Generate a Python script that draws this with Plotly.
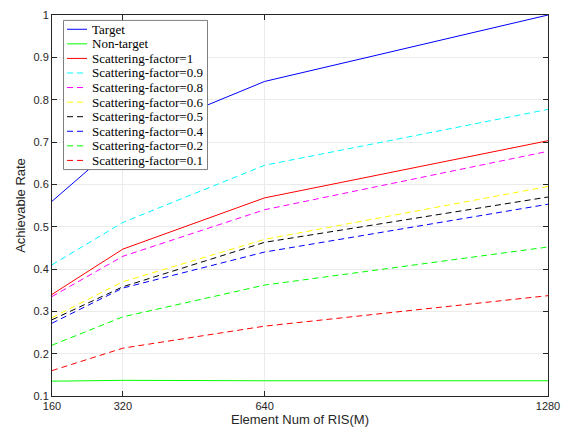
import plotly.graph_objects as go

elements = [160, 320, 640, 1280]
target = [0.56, 0.705, 0.843, 1.0]
non_target = [0.135, 0.137, 0.136, 0.136]
sf_1 = [0.34, 0.447, 0.568, 0.703]
sf_09 = [0.41, 0.51, 0.645, 0.777]
sf_08 = [0.335, 0.43, 0.54, 0.678]
sf_06 = [0.285, 0.37, 0.47, 0.595]
sf_05 = [0.28, 0.358, 0.463, 0.57]
sf_04 = [0.272, 0.355, 0.44, 0.553]
sf_02 = [0.22, 0.287, 0.362, 0.452]
sf_01 = [0.16, 0.213, 0.265, 0.337]

DASH = "6px,4px"
series = [
    ("Target", target, "#0000FF", "solid"),
    ("Non-target", non_target, "#00FF00", "solid"),
    ("Scattering-factor=1", sf_1, "#FF0000", "solid"),
    ("Scattering-factor=0.9", sf_09, "#00FFFF", DASH),
    ("Scattering-factor=0.8", sf_08, "#FF00FF", DASH),
    ("Scattering-factor=0.6", sf_06, "#FFFF00", DASH),
    ("Scattering-factor=0.5", sf_05, "#000000", DASH),
    ("Scattering-factor=0.4", sf_04, "#0000FF", DASH),
    ("Scattering-factor=0.2", sf_02, "#00FF00", DASH),
    ("Scattering-factor=0.1", sf_01, "#FF0000", DASH),
]

W, H = 570, 434
ML, MR, MT, MB = 52, 22, 9, 38
PW, PH = W - ML - MR, H - MT - MB

def px(p):
    return (p - ML) / PW

def py(p):
    return (H - MB - p) / PH

fig = go.Figure()
for name, vals, color, dash in series:
    fig.add_trace(go.Scatter(x=elements, y=vals, mode="lines", name=name,
                             line=dict(color=color, width=1, dash=dash)))

# legend drawn as a box with sample lines and labels
shapes = [dict(type="rect", xref="paper", yref="paper",
               x0=px(63.5), x1=px(207.5), y0=py(166), y1=py(14.5),
               fillcolor="white", line=dict(color="#7F7F7F", width=1), layer="above")]
annotations = []
for i, (name, vals, color, dash) in enumerate(series):
    yc = 23.5 + i * 14.8
    shapes.append(dict(type="line", xref="paper", yref="paper",
                       x0=px(67), x1=px(87), y0=py(yc), y1=py(yc),
                       line=dict(color=color, width=1, dash=dash), layer="above"))
    annotations.append(dict(xref="paper", yref="paper", x=px(89.5), y=py(yc),
                            xanchor="left", yanchor="middle", showarrow=False,
                            text=name, font=dict(family="Liberation Serif", size=13, color="#000000")))

yticks = [round(0.1 * i, 1) for i in range(1, 11)]
ytext = ["0.1", "0.2", "0.3", "0.4", "0.5", "0.6", "0.7", "0.8", "0.9", "1"]

axis_common = dict(showline=True, linecolor="#262626", linewidth=1, mirror="ticks",
                   ticks="inside", ticklen=5, tickcolor="#262626",
                   showgrid=True, gridcolor="#EBEBEB", gridwidth=1, zeroline=False,
                   tickfont=dict(family="Liberation Sans, Arial", size=11, color="#262626"))

fig.update_layout(
    width=W, height=H,
    margin=dict(l=ML, r=MR, t=MT, b=MB),
    paper_bgcolor="white", plot_bgcolor="white",
    xaxis=dict(range=[160, 1280], tickvals=elements, ticktext=[str(e) for e in elements],
               title=dict(text="Element Num of RIS(M)", standoff=3,
                          font=dict(family="Liberation Sans, Arial", size=13, color="#262626")),
               **axis_common),
    yaxis=dict(range=[0.1, 1.0], tickvals=yticks, ticktext=ytext,
               title=dict(text="Achievable Rate", standoff=4,
                          font=dict(family="Liberation Sans, Arial", size=13, color="#262626")),
               **axis_common),
    showlegend=False,
    shapes=shapes,
    annotations=annotations,
)

fig.write_html("out.html")
